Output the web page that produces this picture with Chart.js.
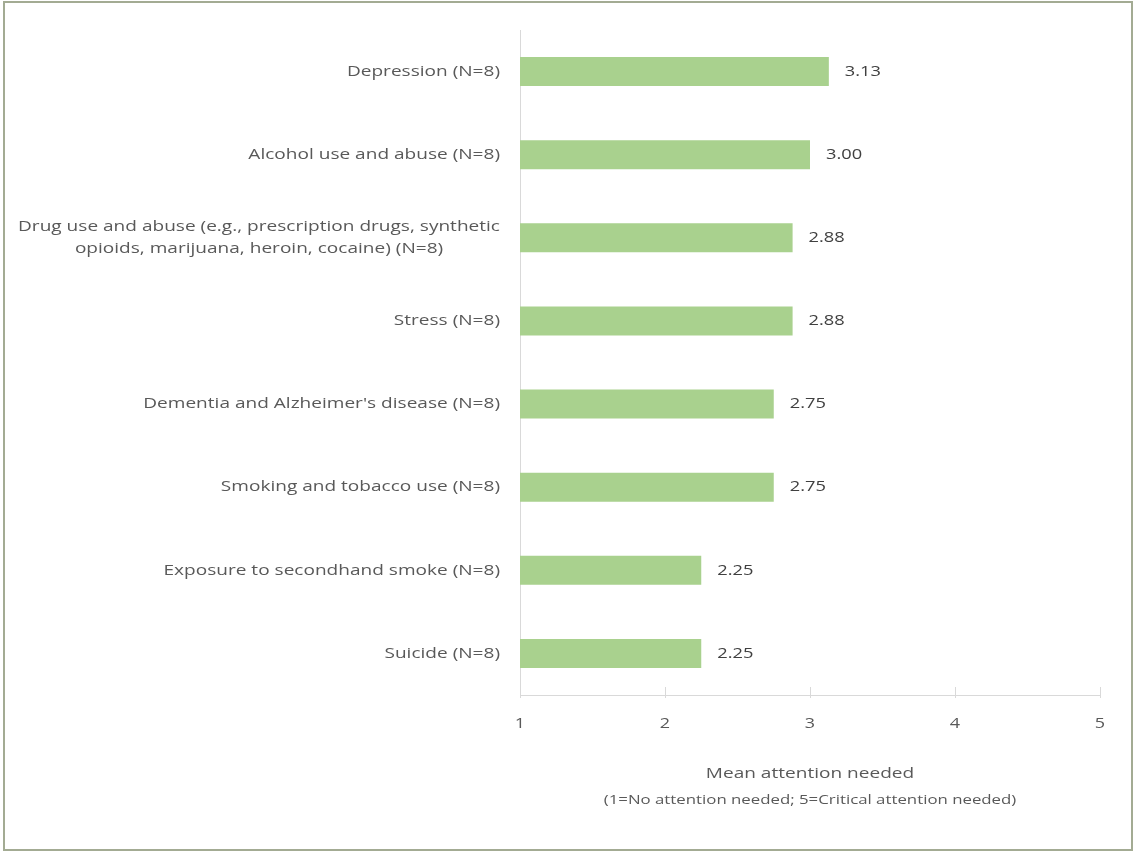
<!DOCTYPE html>
<html>
<head>
<meta charset="utf-8">
<script src="https://cdn.jsdelivr.net/npm/chart.js@4.4.1/dist/chart.umd.min.js"></script>
<style>
  html, body { margin: 0; padding: 0; background: #ffffff; }
  #wrap { position: relative; width: 1134px; height: 852px; }
  #frame { position: absolute; left: 3px; top: 1px; width: 1126px; height: 846px; border: 2px solid #a3ab93; pointer-events: none; }
  canvas { position: absolute; left: 0; top: 0; }
</style>
</head>
<body>
<div id="wrap">
  <canvas id="c" width="1134" height="852"></canvas>
  <div id="frame"></div>
</div>
<script>
const categories = [
  ["Depression (N=8)"],
  ["Alcohol use and abuse (N=8)"],
  ["Drug use and abuse (e.g., prescription drugs, synthetic", "opioids, marijuana, heroin, cocaine) (N=8)"],
  ["Stress (N=8)"],
  ["Dementia and Alzheimer's disease (N=8)"],
  ["Smoking and tobacco use (N=8)"],
  ["Exposure to secondhand smoke (N=8)"],
  ["Suicide (N=8)"]
];
const meanValues = [3.13, 3.00, 2.88, 2.88, 2.75, 2.75, 2.25, 2.25];
const xTicks = [1, 2, 3, 4, 5];
const axisTitle = "Mean attention needed";
const axisSubtitle = "(1=No attention needed; 5=Critical attention needed)";

const FONT = "'Open Sans', sans-serif";
const TEXT = "#595959";
const AXIS = "#d9d9d9";

// draw text stretched horizontally by factor sx, anchored at x according to align
function wideText(ctx, text, x, y, align, sx) {
  const w = ctx.measureText(text).width * sx;
  let left = x;
  if (align === 'center') left = x - w / 2;
  else if (align === 'right') left = x - w;
  ctx.save();
  ctx.textAlign = 'left';
  ctx.translate(left, y);
  ctx.scale(sx, 1);
  ctx.fillText(text, 0, 0);
  ctx.restore();
  return w;
}

const overlay = {
  id: 'overlay',
  afterDraw(chart) {
    const ctx = chart.ctx;
    const xs = chart.scales.x, ys = chart.scales.y;
    const area = chart.chartArea;
    ctx.save();
    // x tick marks
    ctx.strokeStyle = AXIS;
    ctx.lineWidth = 1;
    xTicks.forEach(v => {
      const px = Math.round(xs.getPixelForValue(v)) + 0.5;
      ctx.beginPath();
      ctx.moveTo(px, area.bottom - 8);
      ctx.lineTo(px, area.bottom + 3);
      ctx.stroke();
    });
    ctx.textBaseline = 'middle';
    // x tick labels
    ctx.font = "15px " + FONT;
    ctx.fillStyle = TEXT;
    xTicks.forEach(v => {
      wideText(ctx, String(v), xs.getPixelForValue(v), area.bottom + 29, 'center', 1.2);
    });
    // category labels
    const SX = 1.27;
    ctx.font = "15px " + FONT;
    const right = area.left - 20;
    const lh = 22;
    categories.forEach((lines, i) => {
      const cy = ys.getPixelForValue(i);
      const w = Math.max(...lines.map(l => ctx.measureText(l).width)) * SX;
      const cx = right - w / 2;
      const y0 = cy - (lines.length - 1) * lh / 2;
      lines.forEach((l, j) => wideText(ctx, l, cx, y0 + j * lh, 'center', SX));
    });
    // value labels
    ctx.fillStyle = "#404040";
    ctx.font = "15px " + FONT;
    const meta = chart.getDatasetMeta(0);
    meta.data.forEach((bar, i) => {
      wideText(ctx, meanValues[i].toFixed(2), bar.x + 16, bar.y, 'left', 1.22);
    });
    // axis title
    const mid = (area.left + area.right) / 2;
    ctx.fillStyle = TEXT;
    ctx.font = "15px " + FONT;
    wideText(ctx, axisTitle, mid, 774, 'center', 1.27);
    ctx.font = "12px " + FONT;
    wideText(ctx, axisSubtitle, mid, 801, 'center', 1.4);
    ctx.restore();
  }
};

new Chart(document.getElementById('c'), {
  type: 'bar',
  data: {
    labels: categories,
    datasets: [{
      data: meanValues,
      backgroundColor: '#a9d18e',
      borderWidth: 0,
      barPercentage: 0.7,
      categoryPercentage: 0.5
    }]
  },
  options: {
    indexAxis: 'y',
    responsive: false,
    animation: false,
    devicePixelRatio: 1,
    layout: { padding: { top: 30, right: 34, bottom: 0, left: 0 } },
    plugins: { legend: { display: false }, tooltip: { enabled: false } },
    scales: {
      x: {
        type: 'linear',
        min: 1, max: 5,
        ticks: { stepSize: 1, display: false },
        grid: { display: true, drawOnChartArea: false, drawTicks: false, color: AXIS },
        border: { display: true, color: AXIS, width: 1 },
        afterFit(s) { s.height = 157; }
      },
      y: {
        type: 'category',
        ticks: { display: false },
        grid: { display: false, drawTicks: false },
        border: { display: true, color: AXIS, width: 1 },
        afterFit(s) { s.width = 520; }
      }
    }
  },
  plugins: [overlay]
});
</script>
</body>
</html>
